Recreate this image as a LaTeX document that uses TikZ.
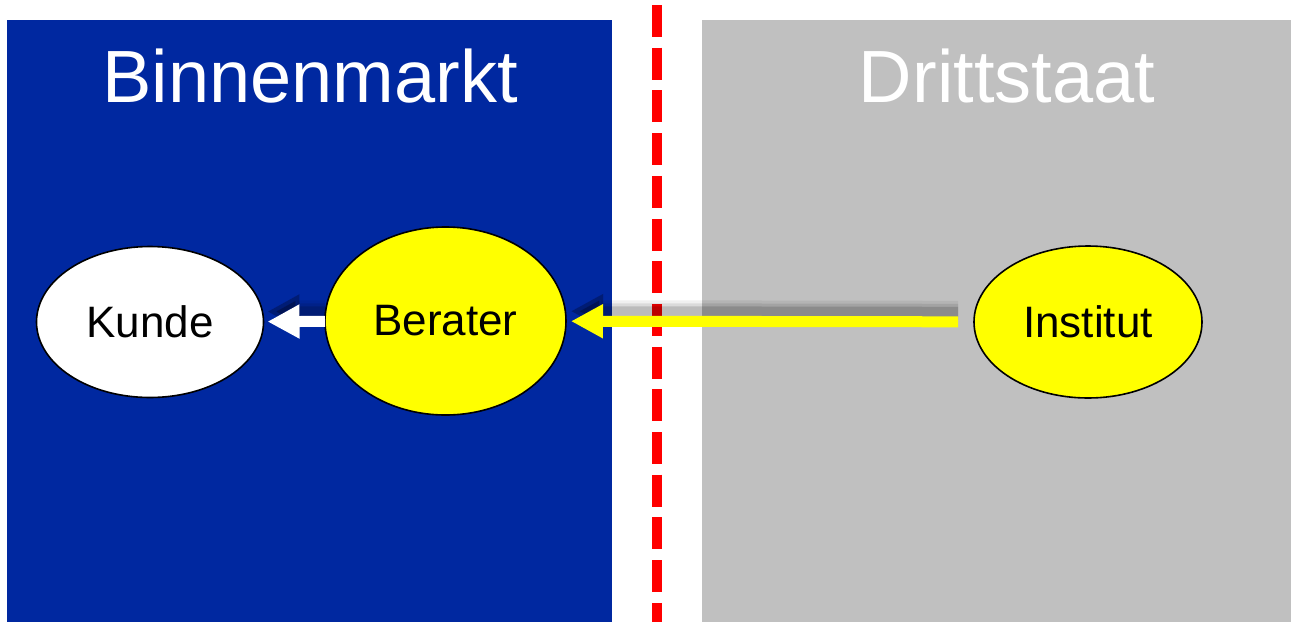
\documentclass[tikz,border=0pt]{standalone}
\usepackage{fontspec}
\setmainfont{Liberation Sans}
\usetikzlibrary{shapes.geometric,arrows.meta}
\definecolor{marktblau}{RGB}{0,40,160}
\definecolor{drittgrau}{RGB}{192,192,192}
\definecolor{gelb}{RGB}{255,255,0}

\begin{document}
\begin{tikzpicture}[x=0.5pt,y=-0.5pt,
  ell/.style={ellipse,draw=black,line width=0.8pt,inner sep=0pt,outer sep=0pt,
    font=\fontsize{22}{26}\selectfont},
  pfeil/.style={line width=5.5pt,-{Triangle[length=16pt,width=16pt]}},
  schatten/.style={pfeil,black,opacity=#1,transform canvas={yshift=5pt}},
  titel/.style={white,anchor=base,font=\fontsize{37}{44}\selectfont}]
\useasboundingbox (0,0) rectangle (1291,622);
% the two regions
\fill[marktblau] (7,20) rectangle (612,622);
\fill[drittgrau] (702,20) rectangle (1291,622);
\draw[red,line width=5.25pt,dash pattern=on 16pt off 5.35pt] (657,5)--(657,622);
\node[titel] (binnen) at (310,102) {Binnenmarkt};
\node[titel] (dritt) at (1007,102) {Drittstaat};
% the parties
\node[ell,fill=white,minimum width=113.5pt,minimum height=75.5pt] (kunde) at (150,322) {Kunde};
\node[ell,fill=gelb,minimum width=120.5pt,minimum height=94pt] (berater) at (445.5,321) {Berater};
\node[ell,fill=gelb,minimum width=114pt,minimum height=76pt] (institut) at (1088,322) {Institut};
% soft shadows, then arrows
\foreach \b/\o in {11pt/0.06,8pt/0.09,5pt/0.14} {
  \draw[schatten=\o,line width=\b,shorten >=2pt] (berater) -- (kunde);
  \draw[schatten=\o,line width=\b,shorten >=2.5pt,shorten <=8pt] (institut) -- (berater);
}
\draw[pfeil,white,shorten >=2pt] (berater) -- (kunde);
\draw[pfeil,gelb,shorten >=2.5pt,shorten <=8pt] (institut) -- (berater);
\end{tikzpicture}
\end{document}
